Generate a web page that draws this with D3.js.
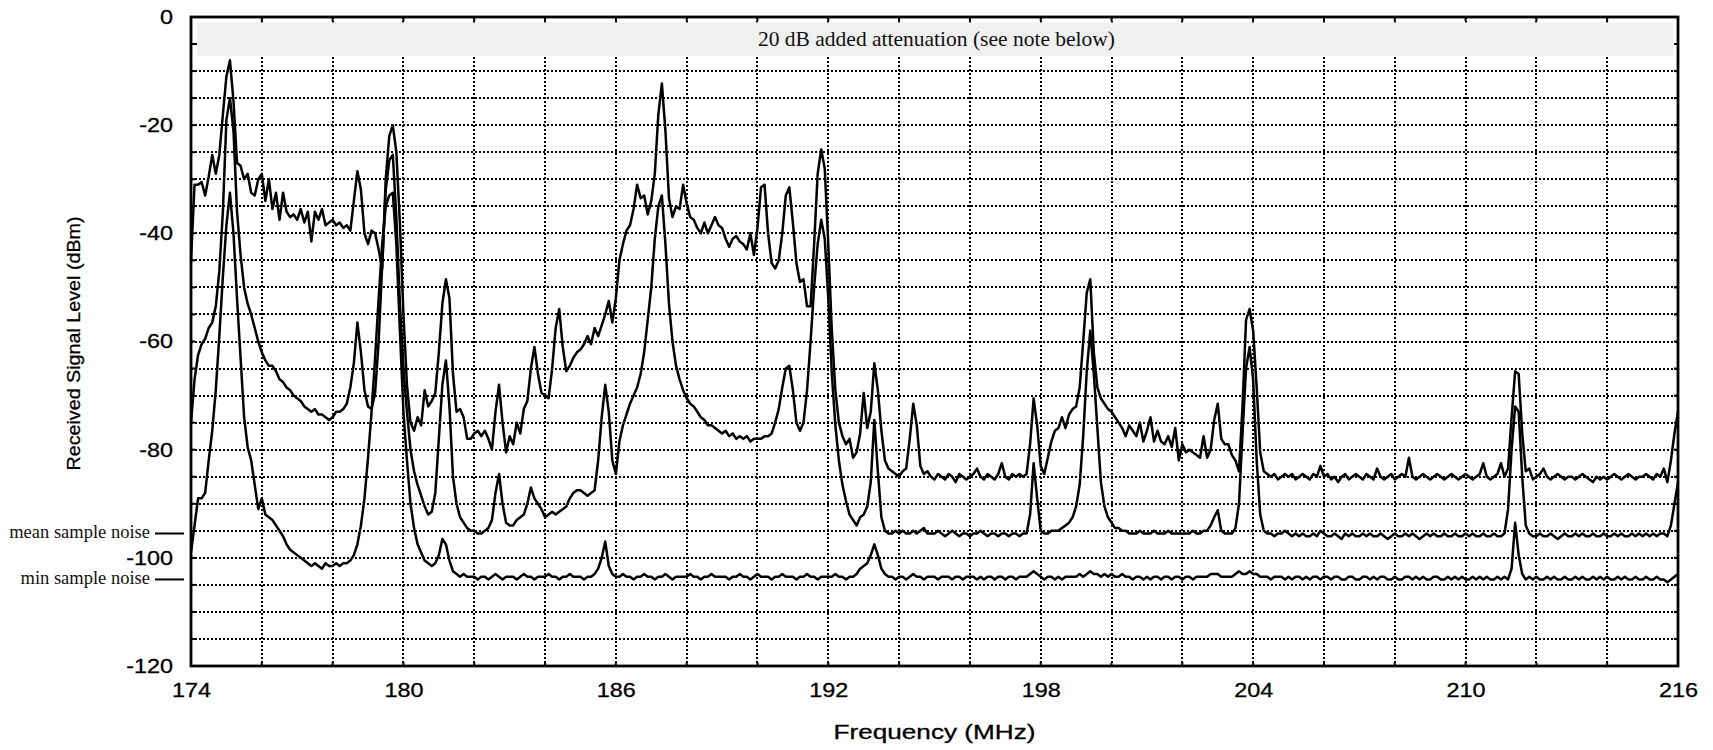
<!DOCTYPE html>
<html>
<head>
<meta charset="utf-8">
<script src="https://cdn.jsdelivr.net/npm/d3@7"></script>
<style>
  html, body { margin: 0; padding: 0; background: #fff; }
  svg { display: block; }
</style>
</head>
<body>
<svg id="chart" width="1713" height="750"></svg>
<script>
// Sweep settings: one reading every 0.1 MHz from 174 to 216 MHz
const sweepStartMHz = 174;
const sweepStepMHz = 0.1;

// Peak-hold trace (dBm), one row per MHz
const maxTrace = [
  -45, -31, -31, -30.5, -33, -29.5, -25.5, -29, -25.5, -18,
  -11, -8, -15.5, -27, -27.5, -30, -29, -32.5, -33, -30,
  -29, -34, -30, -35.5, -32.5, -37.5, -32.5, -36, -37, -36.5,
  -37.5, -35.5, -38, -36, -41.5, -36, -37.5, -35.5, -38.5, -38,
  -37.5, -38.5, -38, -39, -38.5, -39.5, -34, -28.5, -32, -40,
  -42, -39.5, -40, -43, -46.5, -30, -22, -20, -25, -38,
  -55, -68, -75, -76.5, -74, -75.5, -69, -72, -71, -69.5,
  -62, -53, -48.5, -52, -66, -73, -72.5, -74, -78, -78,
  -77, -76.5, -77.5, -76.5, -78, -80, -73, -68, -75, -80.5,
  -77.5, -79, -75, -77, -72.5, -71, -65, -61, -66, -69.5,
  -70, -70.5, -65, -57.5, -54, -61, -65.5, -64.5, -63, -62,
  -61.5, -60.5, -59, -60.5, -57.5, -59, -57, -55, -52.5, -56.5,
  -52, -45, -42, -39.5, -38.5, -35.5, -31, -33.5, -33, -36.5,
  -34, -29, -18, -12.3, -21, -33.5, -37, -35, -35.5, -31,
  -34.5, -37, -37.5, -39, -40, -38, -40, -38.5, -37, -38.5,
  -39, -41, -42.5, -41, -40.5, -41.5, -42, -43, -40, -44,
  -39, -31.5, -31, -40, -45.5, -46.5, -45, -40, -33, -31.5,
  -38, -45.5, -49, -48.5, -53.5, -53.5, -42, -29, -24.5, -28,
  -42, -58, -69, -75, -77.5, -79, -78, -81.5, -80.5, -77,
  -69.5, -76, -73, -64, -69, -76.5, -82, -83.5, -84, -84.5,
  -85, -84, -83.5, -78, -71.5, -75.5, -83, -84.5, -84, -85,
  -85.5, -84.5, -85, -85.5, -84.5, -85, -86, -84.5, -85, -85.5,
  -85, -84.5, -83.5, -85, -85.5, -84.5, -85, -85.5, -84.5, -82.5,
  -85, -85.5, -84.5, -85, -84.5, -85, -84.5, -79, -70.5, -75.5,
  -83, -84.5, -81.5, -78.5, -76.5, -76, -74, -76, -73.5, -72.5,
  -72, -68.5, -60, -51, -48.5, -62, -68.5, -70.5, -71.5, -72.5,
  -73, -74, -75, -76, -77.5, -75.5, -76.5, -77.5, -75, -78.5,
  -76.5, -74, -78.5, -76.5, -78.5, -79, -77.5, -79.5, -76, -82,
  -79, -80.5, -80, -80.5, -81, -81.5, -77.5, -81.5, -80, -74.5,
  -71.5, -78, -79, -79, -81, -82, -84, -72, -56, -54,
  -58, -68.5, -80.5, -84, -84.5, -85, -84.5, -85.5, -85, -84.5,
  -85, -84.5, -85.5, -85, -84.5, -85, -85.5, -84.5, -85, -83,
  -85, -84.5, -85.5, -85, -86, -85, -84.5, -85.5, -85, -84.5,
  -85, -85.5, -84.5, -85, -85.5, -83.5, -85, -85.5, -85, -84.5,
  -85.5, -85, -84.5, -85, -81.5, -85, -85.5, -85, -84.5, -85,
  -85.5, -85, -84.5, -85, -85.5, -85, -84.5, -85, -85.5, -85,
  -84.5, -85, -85.5, -85, -84.5, -82.5, -85, -85.5, -85, -84.5,
  -82.5, -85, -83.5, -74, -65.5, -66, -77, -84, -83.5, -85.5,
  -85, -84.5, -83.5, -85, -85.5, -85, -84.5, -85, -85.5, -85,
  -85, -85.5, -85, -84.5, -85, -85.5, -86, -85, -85.5, -85,
  -85.5, -85, -84.5, -85, -85.5, -85, -84.5, -85, -85.5, -85,
  -85, -84.5, -85, -85.5, -84.5, -85, -83.5, -86, -82, -77,
  -73
];

// Averaged trace (dBm)
const meanTrace = [
  -75, -67, -62.5, -60.5, -59.5, -57.5, -56.5, -53.5, -47, -36,
  -19, -15, -21, -36, -44, -50, -53, -55, -57.5, -60,
  -62, -63.5, -64.5, -64.5, -65.5, -67, -67.5, -68.5, -69, -70,
  -70.5, -71, -72, -72.5, -73, -72.5, -73.5, -73.5, -74, -74.5,
  -74, -73, -73, -72.5, -71.5, -68.5, -64, -56.5, -62, -69,
  -72, -72.5, -69.5, -60, -46, -32, -26.5, -25.5, -37, -53,
  -65, -73, -80, -84, -86.5, -88.5, -90.5, -92, -91.5, -88,
  -78, -68, -63.5, -72, -85, -90, -92.5, -93.5, -94.5, -95,
  -95, -95.5, -95.5, -95, -94.5, -93, -88, -84.5, -90, -93.5,
  -94, -94, -93, -92.5, -92, -90, -87, -89, -90, -91,
  -92.5, -92, -91.5, -92, -91.5, -91, -90.5, -89, -88, -87.5,
  -87.5, -88, -88.5, -88, -87.5, -82, -74, -68, -73, -82,
  -84.5, -78.5, -75.5, -73.5, -71.5, -70, -68.5, -66, -62, -56,
  -50, -41, -35, -33, -42, -53, -60, -64.5, -67, -69,
  -70.5, -71.5, -72, -73, -74, -74.5, -75.5, -75.5, -76, -76.5,
  -77, -76.5, -77.5, -77, -78, -77.5, -78, -77.5, -78.5, -78,
  -78, -78, -77.5, -77.5, -77, -75, -72.5, -68.5, -65, -64.5,
  -69, -75, -76.5, -75, -69, -60, -50, -42, -37.5, -41,
  -52, -66, -75.5, -82, -86.5, -89.5, -92, -93, -94, -92.5,
  -92, -90.5, -86, -74.5, -84, -92.5, -95, -95.5, -95.5, -95,
  -95.5, -95, -95.5, -95.5, -95, -95.5, -95, -94.5, -95.5, -95.5,
  -95.5, -95, -95.5, -96, -95.5, -95, -95.5, -96, -95.5, -95.5,
  -96, -95.5, -95.5, -95, -95.5, -96, -95.5, -95.5, -96, -95.5,
  -95.5, -96, -95.5, -95.5, -96, -95.5, -95.5, -92, -82.5, -89,
  -95, -95.5, -95.5, -95, -95, -95, -94.5, -94, -93.5, -92.5,
  -90.5, -86.5, -77.5, -65.5, -58, -66, -76, -86, -90.5, -92.5,
  -93.5, -94.5, -94.5, -95, -95, -95.5, -95.5, -95.5, -95, -95.5,
  -95.5, -95.5, -95, -95.5, -95.5, -95.5, -95, -95.5, -95.5, -95.5,
  -95.5, -95.5, -95.5, -95, -95.5, -95.5, -95, -95, -94, -92.5,
  -91.2, -95, -95.5, -95.5, -95.5, -94.5, -90, -77, -65, -61,
  -67, -82, -92, -95, -95.5, -95.5, -96, -95.5, -95.5, -95,
  -95.5, -96, -95.5, -96, -95.5, -96, -96, -95.5, -96, -95,
  -95.5, -96, -96, -95.5, -96, -96.5, -95.5, -96, -95.5, -96,
  -96, -95.5, -96, -95.5, -96, -96, -95.5, -96, -96.5, -96,
  -95.5, -96, -96, -95.5, -96, -95.5, -96, -96.5, -96, -95.5,
  -96, -95.5, -96, -96, -95.5, -96, -96, -95.5, -96, -96,
  -95.5, -96, -95.5, -96, -96, -95.5, -96, -96, -95.5, -96,
  -96, -95.5, -91, -80, -72, -73, -85, -94, -95.5, -96,
  -96, -95.5, -96, -96, -95.5, -96, -96.5, -96, -95.5, -96,
  -96, -95.5, -96, -95.5, -96, -96, -95.5, -96, -96, -95.5,
  -96, -96, -95.5, -96, -95.5, -96, -96, -95.5, -96, -95.5,
  -96, -95.5, -96, -95.5, -96, -95.5, -95.5, -96, -94, -90,
  -86
];

// Minimum-hold trace (dBm)
const minTrace = [
  -99, -94, -89, -89, -88, -82, -76.5, -69, -59, -48,
  -38.5, -32.5, -40, -52, -63, -74, -79.5, -82, -86.5, -91,
  -89, -92, -92.5, -93, -94, -95, -96, -97.5, -98.5, -99,
  -99.5, -100, -100.5, -101, -101.5, -101, -101.5, -102, -101, -101.5,
  -101.5, -101, -101.5, -101, -101, -100.5, -99.5, -97.5, -94, -89,
  -81.5, -73, -63, -52, -42, -35, -33, -32.5, -42, -58,
  -73, -82, -90, -94.5, -97.5, -99, -100.5, -101, -101.5, -101,
  -99.5, -96.5, -97.5, -100.5, -102.5, -103, -103.5, -103, -103.5, -103.5,
  -103.5, -104, -103.5, -103.5, -104, -103.5, -103, -103.5, -104, -103.5,
  -103.5, -103.5, -104, -103.5, -103, -103.5, -103.5, -104, -103.5, -103.5,
  -103.5, -103, -103.5, -103.5, -104, -103.5, -103.5, -103, -103.5, -103.5,
  -103.5, -104, -103.5, -103.5, -103, -102, -100, -97, -101.5, -103,
  -103.5, -103.5, -103, -103.5, -103.5, -104, -103.5, -103.5, -103, -103.5,
  -103.5, -104, -103.5, -103.5, -103, -103.5, -104, -103.5, -103.5, -103.5,
  -103.5, -103, -103.5, -103.5, -104, -103.5, -103.5, -103, -103.5, -103.5,
  -103.5, -103.5, -104, -103.5, -103.5, -103, -103.5, -103.5, -104, -103.5,
  -103, -103.5, -103.5, -103.5, -104, -103.5, -103.5, -103, -103.5, -103.5,
  -103.5, -104, -103.5, -103.5, -103, -103.5, -103.5, -104, -103.5, -103.5,
  -103.5, -103.5, -103, -103.5, -103.5, -104, -103.5, -103.5, -103, -102,
  -101.5, -101, -99.5, -97.5, -99.5, -102, -103, -103.5, -103.5, -104,
  -103.5, -103.5, -104, -103.5, -103, -103.5, -103.5, -104, -103.5, -103.5,
  -103.5, -104, -103.5, -103.5, -103.5, -104, -103.5, -103.5, -104, -103.5,
  -103.5, -103.5, -104, -103.5, -104, -103.5, -103.5, -104, -103.5, -103.5,
  -104, -103.5, -103.5, -104, -103.5, -103.5, -103.5, -103, -102.5, -103,
  -103.5, -104, -103.5, -103.5, -104, -103.5, -104, -103.5, -103.5, -103.5,
  -103.5, -103, -103.5, -103, -102.5, -103, -103, -103.5, -103, -103.5,
  -103, -103.5, -103.5, -103, -103.5, -103.5, -104, -103.5, -103.5, -104,
  -103.5, -104, -103.5, -103.5, -104, -103.5, -103.5, -104, -103.5, -103.5,
  -104, -103.5, -103.5, -104, -103.5, -103.5, -103.5, -103.5, -103, -103,
  -103, -103.5, -103.5, -103.5, -103.5, -103, -102.5, -103, -103, -102.5,
  -103, -103, -103.5, -103.5, -103.5, -104, -103.5, -103.5, -103.5, -104,
  -103.5, -104, -103.5, -103.5, -104, -103.5, -104, -103.5, -103.5, -104,
  -103.5, -103.5, -104, -103.5, -103.5, -104, -104, -103.5, -103.5, -104,
  -104, -103.5, -103.5, -104, -103.5, -104, -103.5, -103.5, -104, -104,
  -103.5, -104, -104, -103.5, -103.5, -104, -103.5, -104, -103.5, -104,
  -104, -103.5, -103.5, -104, -104, -103.5, -104, -103.5, -104, -103.5,
  -104, -104, -103.5, -104, -103.5, -104, -103.5, -104, -104, -103.5,
  -104, -103.5, -104, -102, -93.5, -99.5, -103, -104, -103.5, -104,
  -103.5, -104, -104, -103.5, -104, -103.5, -104, -104, -103.5, -104,
  -104, -103.5, -104, -103.5, -104, -104, -103.5, -104, -103.5, -104,
  -103.5, -104, -104, -103.5, -104, -103.5, -104, -104, -103.5, -104,
  -104, -103.5, -104, -104, -103.5, -104, -104, -104.5, -104, -103.5,
  -103
];

// Axis ticks and annotations
const freqTicks = [174, 180, 186, 192, 198, 204, 210, 216];
const levelTicks = [0, -20, -40, -60, -80, -100, -120];
const freqGridStep = 2;
const levelGridStep = 5;
const noiseMarkers = [
  { label: "mean sample noise", level: -95.5 },
  { label: "min sample noise", level: -104 }
];
const bannerText = "20 dB added attenuation (see note below)";
const bannerLevels = [-1, -7.2];

const svg = d3.select("#chart");
const plot = { left: 191, right: 1678, top: 17, bottom: 666 };

const x = d3.scaleLinear().domain([174, 216]).range([plot.left, plot.right]);
const y = d3.scaleLinear().domain([-120, 0]).range([plot.bottom, plot.top]);

const sansFont = "'Liberation Sans', Arial, Helvetica, sans-serif";
const serifFont = "'Liberation Serif', 'Times New Roman', serif";

// Dotted grid, snapped to whole pixels so the dots stay sharp
const gridFreqs = d3.range(174 + freqGridStep, 216, freqGridStep);
const gridLevels = d3.range(-120 + levelGridStep, 0, levelGridStep);
const grid = svg.append("g")
  .attr("stroke", "#000")
  .attr("stroke-width", 2)
  .attr("stroke-dasharray", "2,2")
  .attr("shape-rendering", "crispEdges");
grid.selectAll("line.v").data(gridFreqs).join("line")
  .attr("class", "v")
  .attr("x1", d => Math.round(x(d))).attr("x2", d => Math.round(x(d)))
  .attr("y1", plot.top).attr("y2", plot.bottom);
grid.selectAll("line.h").data(gridLevels).join("line")
  .attr("class", "h")
  .attr("x1", plot.left).attr("x2", plot.right)
  .attr("y1", d => Math.round(y(d))).attr("y2", d => Math.round(y(d)));

// Shaded banner marking the attenuated region
svg.append("rect")
  .attr("x", plot.left + 6)
  .attr("width", plot.right - plot.left - 11)
  .attr("y", y(bannerLevels[0]))
  .attr("height", y(bannerLevels[1]) - y(bannerLevels[0]))
  .attr("fill", "#f0f0f0");
svg.append("text")
  .attr("x", (plot.left + plot.right) / 2 + 2)
  .attr("y", (y(bannerLevels[0]) + y(bannerLevels[1])) / 2 + 7)
  .attr("text-anchor", "middle")
  .attr("font-family", serifFont)
  .attr("font-size", 21.5)
  .attr("fill", "#111")
  .text(bannerText);

// Inward tick marks on all four sides
const tickLen = 4;
const ticks = svg.append("g").attr("stroke", "#000").attr("stroke-width", 2);
ticks.selectAll("line.b").data(gridFreqs).join("line")
  .attr("x1", d => x(d)).attr("x2", d => x(d))
  .attr("y1", plot.bottom).attr("y2", plot.bottom - tickLen);
ticks.selectAll("line.t").data(gridFreqs).join("line")
  .attr("x1", d => x(d)).attr("x2", d => x(d))
  .attr("y1", plot.top).attr("y2", plot.top + tickLen);
ticks.selectAll("line.l").data(gridLevels).join("line")
  .attr("x1", plot.left).attr("x2", plot.left + tickLen)
  .attr("y1", d => y(d)).attr("y2", d => y(d));
ticks.selectAll("line.r").data(gridLevels).join("line")
  .attr("x1", plot.right).attr("x2", plot.right - tickLen)
  .attr("y1", d => y(d)).attr("y2", d => y(d));

// Spectrum traces
const line = d3.line()
  .x((d, i) => x(sweepStartMHz + i * sweepStepMHz))
  .y(d => y(d));
const traces = svg.append("g")
  .attr("fill", "none")
  .attr("stroke", "#000")
  .attr("stroke-width", 2.5)
  .attr("stroke-linejoin", "round");
[maxTrace, meanTrace, minTrace].forEach(series => {
  traces.append("path").attr("d", line(series));
});

// Plot frame
svg.append("rect")
  .attr("x", plot.left).attr("y", plot.top)
  .attr("width", plot.right - plot.left)
  .attr("height", plot.bottom - plot.top)
  .attr("fill", "none")
  .attr("stroke", "#000")
  .attr("stroke-width", 2.8);

// Axis labels
function widen(sel, factor) {
  sel.each(function () {
    const w = this.getComputedTextLength();
    d3.select(this)
      .attr("textLength", w * factor)
      .attr("lengthAdjust", "spacingAndGlyphs");
  });
}

const xAxis = svg.append("g")
  .attr("transform", `translate(0,${plot.bottom})`)
  .call(d3.axisBottom(x).tickValues(freqTicks).tickSize(0).tickPadding(17).tickFormat(d3.format("d")));
const yAxis = svg.append("g")
  .attr("transform", `translate(${plot.left},0)`)
  .call(d3.axisLeft(y).tickValues(levelTicks).tickSize(0).tickPadding(18).tickFormat(d => d3.format("d")(d).replace("−", "-")));
[xAxis, yAxis].forEach(ax => {
  ax.select(".domain").remove();
  ax.selectAll("text")
    .attr("font-family", sansFont)
    .attr("font-size", 20)
    .attr("fill", "#000")
    .attr("stroke", "#000")
    .attr("stroke-width", 0.3);
  widen(ax.selectAll("text"), 1.17);
});

// Axis titles
svg.append("text")
  .attr("x", (plot.left + plot.right) / 2)
  .attr("y", 739)
  .attr("text-anchor", "middle")
  .attr("font-family", sansFont)
  .attr("font-size", 20)
  .attr("stroke", "#000")
  .attr("stroke-width", 0.3)
  .attr("textLength", 202)
  .attr("lengthAdjust", "spacingAndGlyphs")
  .text("Frequency (MHz)");
svg.append("text")
  .attr("transform", `translate(80,${(plot.top + plot.bottom) / 2 + 2}) rotate(-90)`)
  .attr("text-anchor", "middle")
  .attr("font-family", sansFont)
  .attr("font-size", 19)
  .attr("stroke", "#000")
  .attr("stroke-width", 0.3)
  .attr("textLength", 254)
  .attr("lengthAdjust", "spacingAndGlyphs")
  .text("Received Signal Level (dBm)");

// Noise floor markers left of the axis
const markers = svg.append("g");
noiseMarkers.forEach(m => {
  markers.append("line")
    .attr("x1", 155).attr("x2", 184)
    .attr("y1", y(m.level)).attr("y2", y(m.level))
    .attr("stroke", "#000").attr("stroke-width", 2);
  markers.append("text")
    .attr("x", 150)
    .attr("y", y(m.level) + 5)
    .attr("text-anchor", "end")
    .attr("font-family", serifFont)
    .attr("font-size", 18.5)
    .attr("fill", "#111")
    .text(m.label);
});
</script>
</body>
</html>
